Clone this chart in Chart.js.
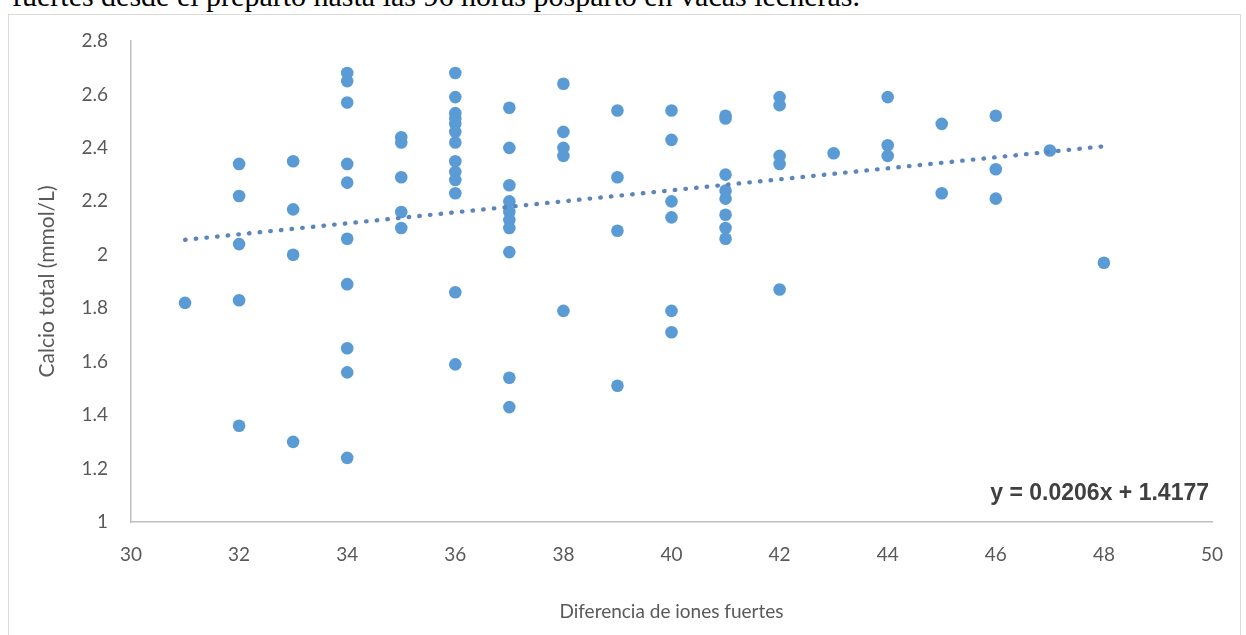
<!DOCTYPE html>
<html>
<head>
<meta charset="utf-8">
<script src="https://cdn.jsdelivr.net/npm/chart.js@4/dist/chart.umd.min.js"></script>
<style>
html,body{margin:0;padding:0;background:#fff;overflow:hidden;width:1246px;height:635px;}
#wrap{position:absolute;left:0;top:0;width:1246px;height:635px;}
#frame{position:absolute;left:8px;top:14px;width:1231px;height:640px;border:1px solid #d9d9d9;pointer-events:none;}
#cap{position:absolute;left:12px;top:-19px;font-family:"Liberation Serif","Times New Roman",serif;font-size:30px;line-height:30px;white-space:nowrap;color:#000;}
</style>
</head>
<body>
<div id="cap">fuertes desde el preparto hasta las 96 horas posparto en vacas lecheras.</div>
<div id="frame"></div>
<div id="wrap"><canvas id="c" width="1246" height="635"></canvas></div>
<script>
// Diferencia de iones fuertes (x) and Calcio total (y), one entry per cow sample
const sid = [
  31,
  32,32,32,32,32,
  33,33,33,33,
  34,34,34,34,34,34,34,34,34,34,
  35,35,35,35,35,
  36,36,36,36,36,36,36,36,36,36,36,36,36,
  37,37,37,37,37,37,37,37,37,37,
  38,38,38,38,38,
  39,39,39,39,
  40,40,40,40,40,40,
  41,41,41,41,41,41,41,41,
  42,42,42,42,42,
  43,
  44,44,44,
  45,45,
  46,46,46,
  47,
  48
];
const calcio = [
  1.82,
  2.34,2.22,2.04,1.83,1.36,
  2.35,2.17,2.00,1.30,
  2.68,2.65,2.57,2.34,2.27,2.06,1.89,1.65,1.56,1.24,
  2.44,2.42,2.29,2.16,2.10,
  2.68,2.59,2.53,2.51,2.49,2.46,2.42,2.35,2.31,2.28,2.23,1.86,1.59,
  2.55,2.40,2.26,2.20,2.16,2.13,2.10,2.01,1.54,1.43,
  2.64,2.46,2.40,2.37,1.79,
  2.54,2.29,2.09,1.51,
  2.54,2.43,2.20,2.14,1.79,1.71,
  2.52,2.51,2.30,2.24,2.21,2.15,2.10,2.06,
  2.59,2.56,2.37,2.34,1.87,
  2.38,
  2.59,2.41,2.37,
  2.49,2.23,
  2.52,2.32,2.21,
  2.39,
  1.97
];
// Linear trendline end points
const trendX = [31, 48];
const trendY = [2.056, 2.406];
const equationText = 'y = 0.0206x + 1.4177';
// Tick labels
const xTicks = [30,32,34,36,38,40,42,44,46,48,50];
const yTicks = [1,1.2,1.4,1.6,1.8,2,2.2,2.4,2.6,2.8];
const xTitle = 'Diferencia de iones fuertes';
const yTitle = 'Calcio total (mmol/L)';

const points = sid.map((x, i) => ({x: x, y: calcio[i]}));
const trend = trendX.map((x, i) => ({x: x, y: trendY[i]}));

const equationPlugin = {
  id: 'equation',
  afterDraw(chart) {
    const ctx = chart.ctx;
    const a = chart.chartArea;
    ctx.save();
    ctx.font = 'bold 23px "Liberation Sans", Arial, sans-serif';
    ctx.fillStyle = '#404040';
    ctx.textAlign = 'right';
    ctx.textBaseline = 'middle';
    ctx.fillText(equationText, a.right - 3, a.bottom - 28);
    ctx.restore();
  }
};

const tickFont = {family: 'Lato, "Open Sans", sans-serif', size: 19};

new Chart(document.getElementById('c'), {
  type: 'scatter',
  data: {
    datasets: [
      {
        label: 'Calcio',
        data: points,
        backgroundColor: '#5B9BD5',
        borderColor: '#5B9BD5',
        pointRadius: 6.3,
        pointBorderWidth: 0,
        pointHoverRadius: 6.3,
        order: 2
      },
      {
        label: 'Lineal',
        type: 'line',
        data: trend,
        borderColor: '#5b86bd',
        borderWidth: 4.3,
        borderDash: [0.6, 10.1],
        borderCapStyle: 'round',
        pointRadius: 0,
        fill: false,
        order: 1
      }
    ]
  },
  options: {
    responsive: false,
    devicePixelRatio: 1,
    animation: false,
    layout: {padding: {left: 0, right: 34, top: 41, bottom: 0}},
    plugins: {legend: {display: false}, tooltip: {enabled: false}},
    scales: {
      x: {
        type: 'linear',
        min: 30, max: 50,
        afterBuildTicks(s) { s.ticks = xTicks.map(v => ({value: v})); },
        afterFit(s) { s.height = 113; },
        grid: {display: false, drawTicks: false},
        border: {display: true, color: '#bfbfbf', width: 1.5},
        ticks: {color: '#595959', font: tickFont, padding: 21, maxRotation: 0,
          callback: v => String(v)},
        title: {display: true, text: xTitle, color: '#595959',
          font: {family: 'Lato, "Open Sans", sans-serif', size: 19}, padding: {top: 0, bottom: 12}}
      },
      y: {
        type: 'linear',
        min: 1, max: 2.8,
        afterBuildTicks(s) { s.ticks = yTicks.map(v => ({value: v})); },
        afterFit(s) { s.width = 131; },
        grid: {display: false, drawTicks: false},
        border: {display: true, color: '#bfbfbf', width: 1.5},
        ticks: {color: '#595959', font: tickFont, padding: 23,
          callback: v => String(v)},
        title: {display: true, text: yTitle, color: '#595959',
          font: {family: 'Lato, "Open Sans", sans-serif', size: 21}, padding: {top: 35, bottom: 0}}
      }
    }
  },
  plugins: [equationPlugin]
});
</script>
</body>
</html>
